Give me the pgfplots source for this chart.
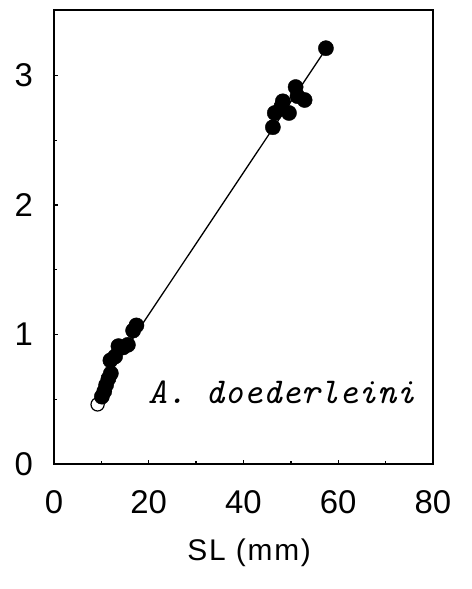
\documentclass[border=0pt]{standalone}
\usepackage{fontspec}
\setmainfont{Liberation Sans}
\usepackage{pgfplots}
\pgfplotsset{compat=1.18}

% Size at standard length (SL) and fitted regression line
\pgfplotstableread{
x    y
10.1 0.52
10.6 0.56
11.0 0.61
11.5 0.66
12.0 0.70
11.9 0.80
12.9 0.83
13.6 0.91
14.6 0.90
15.6 0.92
16.7 1.03
17.4 1.07
46.2 2.60
46.6 2.71
48.3 2.80
48.0 2.76
49.6 2.71
51.0 2.91
51.4 2.84
52.9 2.81
57.4 3.21
}\filled

\pgfplotstableread{
x    y
9.2  0.46
}\hollow

\pgfplotstableread{
x    y
9.2  0.562
57.4 3.204
}\fit

\newfontfamily\labelfont[LetterSpace=6.0]{Liberation Sans}

\begin{document}
\begin{tikzpicture}
\path[use as bounding box] (-54bp,-125bp) rectangle (418bp,464bp);
\begin{axis}[
  scale only axis,
  width=379bp, height=454bp,
  xmin=0, xmax=80, ymin=0, ymax=3.505,
  axis line style={line width=1.5bp},
  xtick={0,20,40,60,80},
  minor xtick={10,30,50,70},
  ytick={0,1,2,3},
  minor ytick={0.5,1.5,2.5},
  xtick pos=bottom, ytick pos=left,
  tick align=inside,
  major tick style={line width=1.3bp, black},
  minor tick style={line width=1.3bp, black},
  x axis/.append style={major tick length=14bp, minor tick length=7bp},
  y axis/.append style={major tick length=7bp, minor tick length=7bp},
  /pgf/number format/assume math mode=true,
  ticklabel style={font=\fontsize{33}{36}\selectfont},
  xticklabel style={anchor=north, inner sep=0pt, yshift=-26bp},
  yticklabel style={anchor=east, inner sep=0pt, xshift=-21bp},
  xlabel={SL (mm)},
  xlabel style={font=\labelfont\fontsize{30}{34}\selectfont,
    at={(axis description cs:0.515,0)}, anchor=center,
    inner sep=0pt, yshift=-89bp},
  clip=false,
]
\addplot[black, line width=1.3bp] table {\fit};
\addplot[only marks, mark=*, mark size=7.6bp, black] table {\filled};
\addplot[only marks, mark=o, mark size=6.6bp, black, mark options={line width=1.2bp, fill=white}] table {\hollow};
\node[anchor=base west, inner sep=0pt, font=\fontsize{36.5}{40}\selectfont\ttfamily\itshape]
  at (axis cs:19.8,0.47) {A. doederleini};
\end{axis}
\end{tikzpicture}
\end{document}
